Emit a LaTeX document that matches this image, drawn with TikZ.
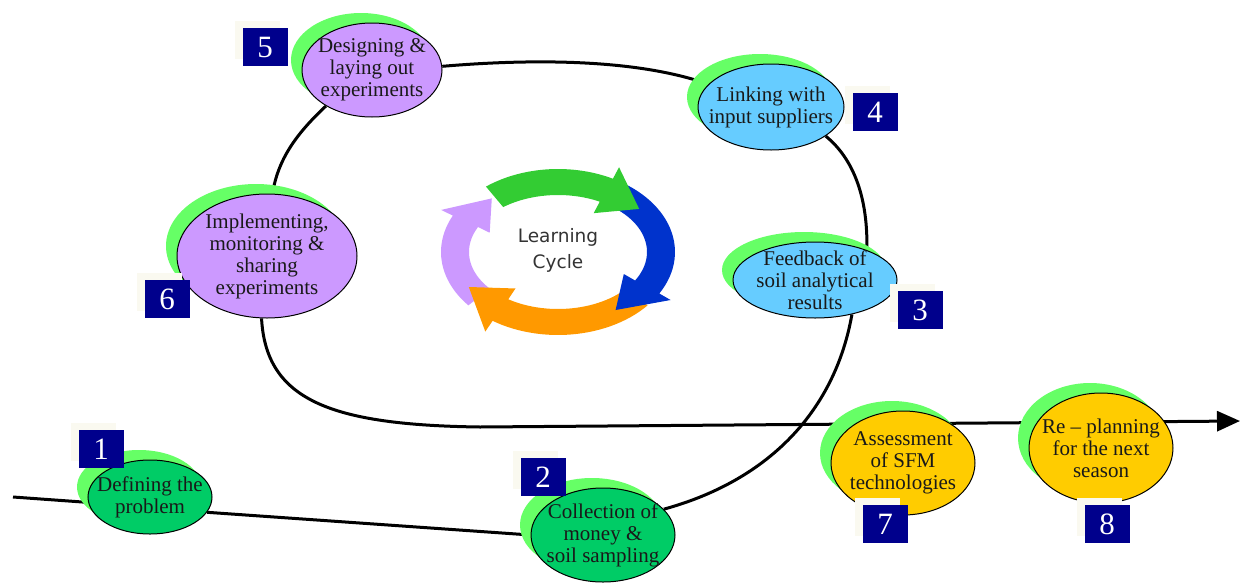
\documentclass[tikz,border=0pt]{standalone}
\usepackage{fontspec}
\setmainfont{Liberation Serif}
\newfontfamily\cyclefont{DejaVu Sans}
\usetikzlibrary{shapes.geometric,arrows.meta}

\definecolor{shadowgreen}{RGB}{102,255,102}
\definecolor{stagepurple}{RGB}{204,153,255}
\definecolor{stageblue}{RGB}{102,204,255}
\definecolor{stagegreen}{RGB}{0,204,102}
\definecolor{stageyellow}{RGB}{255,204,0}
\definecolor{numnavy}{RGB}{0,0,140}
\definecolor{numback}{RGB}{250,249,240}
\definecolor{cyclegreen}{RGB}{51,204,51}
\definecolor{cycleblue}{RGB}{0,51,204}
\definecolor{cycleorange}{RGB}{255,153,0}
\definecolor{cyclepurple}{RGB}{204,153,255}

\pgfdeclarelayer{background}
\pgfsetlayers{background,main}

\tikzset{
	stage/.style={ellipse, draw, line width=1pt, inner sep=-25pt, align=center,
		font=\fontsize{21}{22}\selectfont, text=black!90,
		preaction={fill=shadowgreen, transform canvas={shift={(-11,-10)}}}},
	numbox/.style={fill=numnavy, text=white, inner sep=0pt,
		minimum width=45pt, minimum height=38pt, font=\fontsize{31}{31}\selectfont,
		preaction={fill=numback, transform canvas={shift={(-8,-7)}}}},
	link/.style={line width=3pt},
}

\begin{document}
\begin{tikzpicture}[x=1pt,y=-1pt]
	\useasboundingbox (0,0) rectangle (1245,584);

	% stages of the season
	\node[stage, fill=stagegreen, minimum width=124pt, minimum height=74pt] (define) at (150,497) {Defining the\\problem};
	\node[stage, fill=stagegreen, minimum width=144pt, minimum height=94pt] (collect) at (603,535) {Collection of\\money \&\\soil sampling};
	\node[stage, fill=stageblue, minimum width=164pt, minimum height=76pt] (feedback) at (815,280) {Feedback of\\soil analytical\\results};
	\node[stage, fill=stageblue, minimum width=146pt, minimum height=86pt] (link) at (771,107) {Linking with\\input suppliers};
	\node[stage, fill=stagepurple, minimum width=140pt, minimum height=94pt] (design) at (372,70) {Designing \&\\laying out\\experiments};
	\node[stage, fill=stagepurple, minimum width=180pt, minimum height=124pt] (implement) at (267,256) {Implementing,\\monitoring \&\\sharing\\experiments};
	\node[stage, fill=stageyellow, minimum width=144pt, minimum height=104pt] (assess) at (903,463) {Assessment\\of SFM\\technologies};
	\node[stage, fill=stageyellow, minimum width=144pt, minimum height=110pt] (replan) at (1101,448) {Re -- planning\\for the next\\season};

	% step numbers
	\node[numbox] (num1) at (101,449) {1};
	\node[numbox] (num2) at (543,477) {2};
	\node[numbox] (num3) at (920,310) {3};
	\node[numbox] (num4) at (875,112) {4};
	\node[numbox] (num5) at (265,47) {5};
	\node[numbox] (num6) at (167,299) {6};
	\node[numbox] (num7) at (885,524) {7};
	\node[numbox] (num8) at (1107,524) {8};

	\coordinate (pathstart) at (13,497);
	\coordinate (seasonend) at (1240,421);

	\begin{pgfonlayer}{background}
		\draw[link] (pathstart) -- (define.185);
		\draw[link] (define.-15) -- (collect.west);
		\draw[link] (collect.23) .. controls (770,480) and (835,410) .. (feedback.-43);
		\draw[link] (feedback.30) .. controls (868,200) and (855,160) .. (link.-28);
		\draw[link] (link.160) .. controls (640,60) and (540,58) .. (design.3);
		\draw[link] (design.218) .. controls (295,135) and (278,160) .. (implement.85);
		\draw[link,-{Triangle[length=23pt,width=20pt]}] (implement.265) .. controls (266,400) and (330,425) .. (480,427) -- (seasonend);
	\end{pgfonlayer}

	% learning cycle
	\foreach \s/\e/\p/\col in {140/206/230/cyclepurple, 40/124/150/cycleorange, 300/390/416/cycleblue, 232/298/322/cyclegreen}
		\fill[\col] plot[domain=\s:\e, samples=30] ({558+117*cos(\x)},{252+83*sin(\x)})
			-- ({558+130*cos(\e)},{252+96*sin(\e)})
			-- ({558+103*cos(\p)},{252+70*sin(\p)})
			-- ({558+76*cos(\e)},{252+44*sin(\e)})
			-- plot[domain=\e:\s, samples=30] ({558+89*cos(\x)},{252+57*sin(\x)}) -- cycle;
	\node[font=\cyclefont\fontsize{18.5}{26}\selectfont, text=black!80, align=center] (cycletext) at (558,250) {Learning\\Cycle};
\end{tikzpicture}
\end{document}
